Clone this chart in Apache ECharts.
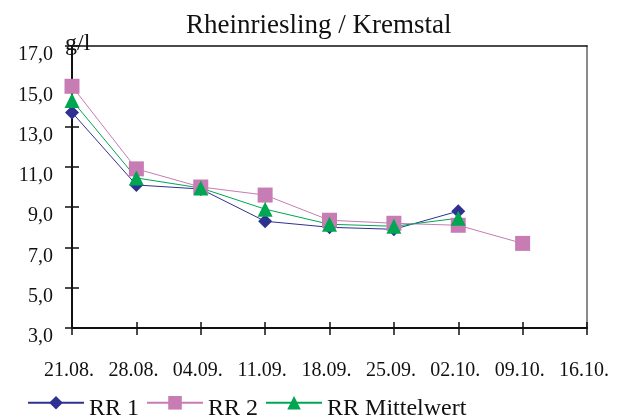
<!DOCTYPE html>
<html>
<head>
<meta charset="utf-8">
<style>
  html, body { margin: 0; padding: 0; background: #fff; }
  #chart { width: 617px; height: 419px; }
</style>
<script src="https://cdn.jsdelivr.net/npm/echarts@6/dist/echarts.min.js"></script>
</head>
<body>
<div id="chart"></div>
<script>
// Sugar content (g/l) over the ripening period
const dates = ['21.08.', '28.08.', '04.09.', '11.09.', '18.09.', '25.09.', '02.10.', '09.10.', '16.10.'];
const rr1 = [13.7, 10.1, 9.9, 8.3, 8.0, 7.9, 8.8, null, null];
const rr2 = [15.0, 10.9, 10.0, 9.6, 8.35, 8.2, 8.1, 7.2, null];
const rrMittel = [14.3, 10.45, 9.95, 8.9, 8.15, 8.05, 8.45, null, null];
const yMin = 3, yMax = 17, yStep = 2;

const FONT = '"Liberation Serif", "DejaVu Serif", serif';
const TXT = '#111';

const chart = echarts.init(document.getElementById('chart'), null, { renderer: 'canvas' });

const catAxisBase = { type: 'category', data: dates, boundaryGap: false, splitLine: { show: false } };
const valAxisBase = { type: 'value', min: yMin, max: yMax, interval: yStep, splitLine: { show: false } };

chart.setOption({
  backgroundColor: '#ffffff',
  animation: false,
  title: {
    text: 'Rheinriesling / Kremstal',
    left: 181,
    top: 7,
    textStyle: { fontFamily: FONT, fontSize: 27, fontWeight: 'normal', color: TXT }
  },
  grid: { left: 72, right: 30, top: 46, bottom: 91, containLabel: false, outerBoundsMode: 'none' },
  legend: {
    left: 27,
    top: 396,
    padding: 0,
    itemWidth: 56,
    itemHeight: 17,
    itemGap: 7,
    formatter: '{t|{name}}',
    textStyle: {
      fontFamily: FONT, fontSize: 24, color: TXT,
      rich: { t: { fontFamily: FONT, fontSize: 24, color: TXT, padding: [12, 0, 0, 0] } }
    },
    data: ['RR 1', 'RR 2', 'RR Mittelwert']
  },
  xAxis: [
    Object.assign({}, catAxisBase, {
      position: 'bottom',
      axisLine: { lineStyle: { color: '#111', width: 2 } },
      axisTick: { show: true, inside: false, length: 7, interval: 0, lineStyle: { color: '#111', width: 1.5 } },
      axisLabel: { interval: 0, fontFamily: FONT, fontSize: 20, color: TXT, margin: 33, padding: [0, 6, 0, 0] }
    }),
    Object.assign({}, catAxisBase, {
      position: 'bottom',
      axisLine: { show: false },
      axisTick: { show: true, inside: true, length: 6, interval: 0, lineStyle: { color: '#111', width: 1.5 } },
      axisLabel: { show: false }
    }),
    Object.assign({}, catAxisBase, {
      position: 'top',
      axisLine: { lineStyle: { color: '#111', width: 1.5 } },
      axisTick: { show: false },
      axisLabel: { show: false }
    })
  ],
  yAxis: [
    Object.assign({}, valAxisBase, {
      position: 'left',
      axisLine: { show: true, lineStyle: { color: '#111', width: 2 } },
      axisTick: { show: true, inside: false, length: 7, lineStyle: { color: '#111', width: 1.5 } },
      axisLabel: {
        fontFamily: FONT, fontSize: 20, color: TXT, margin: 19,
        verticalAlign: 'top', lineHeight: 18,
        formatter: v => v.toFixed(1).replace('.', ',')
      }
    }),
    Object.assign({}, valAxisBase, {
      position: 'left',
      axisLine: { show: false },
      axisTick: { show: true, inside: true, length: 7, lineStyle: { color: '#111', width: 1.5 } },
      axisLabel: { show: false }
    }),
    Object.assign({}, valAxisBase, {
      position: 'right',
      axisLine: { show: true, lineStyle: { color: '#8a8a8a', width: 2 } },
      axisTick: { show: false },
      axisLabel: { show: false }
    })
  ],
  graphic: [
    {
      type: 'text',
      left: 65,
      top: 32,
      z: 100,
      style: { text: 'g/l', fontFamily: FONT, fontSize: 24, fill: TXT }
    }
  ],
  series: [
    {
      name: 'RR 1', type: 'line', data: rr1, xAxisIndex: 0, yAxisIndex: 0,
      symbol: 'diamond', symbolSize: 14, showSymbol: true,
      itemStyle: { color: '#2E3192' },
      lineStyle: { color: '#2E3192', width: 1 }
    },
    {
      name: 'RR 2', type: 'line', data: rr2, xAxisIndex: 0, yAxisIndex: 0,
      symbol: 'rect', symbolSize: 15, showSymbol: true,
      itemStyle: { color: '#C77CB4' },
      lineStyle: { color: '#C77CB4', width: 1 }
    },
    {
      name: 'RR Mittelwert', type: 'line', data: rrMittel, xAxisIndex: 0, yAxisIndex: 0,
      symbol: 'triangle', symbolSize: 15, showSymbol: true,
      itemStyle: { color: '#00A651' },
      lineStyle: { color: '#00A651', width: 1 }
    }
  ]
});
</script>
</body>
</html>
